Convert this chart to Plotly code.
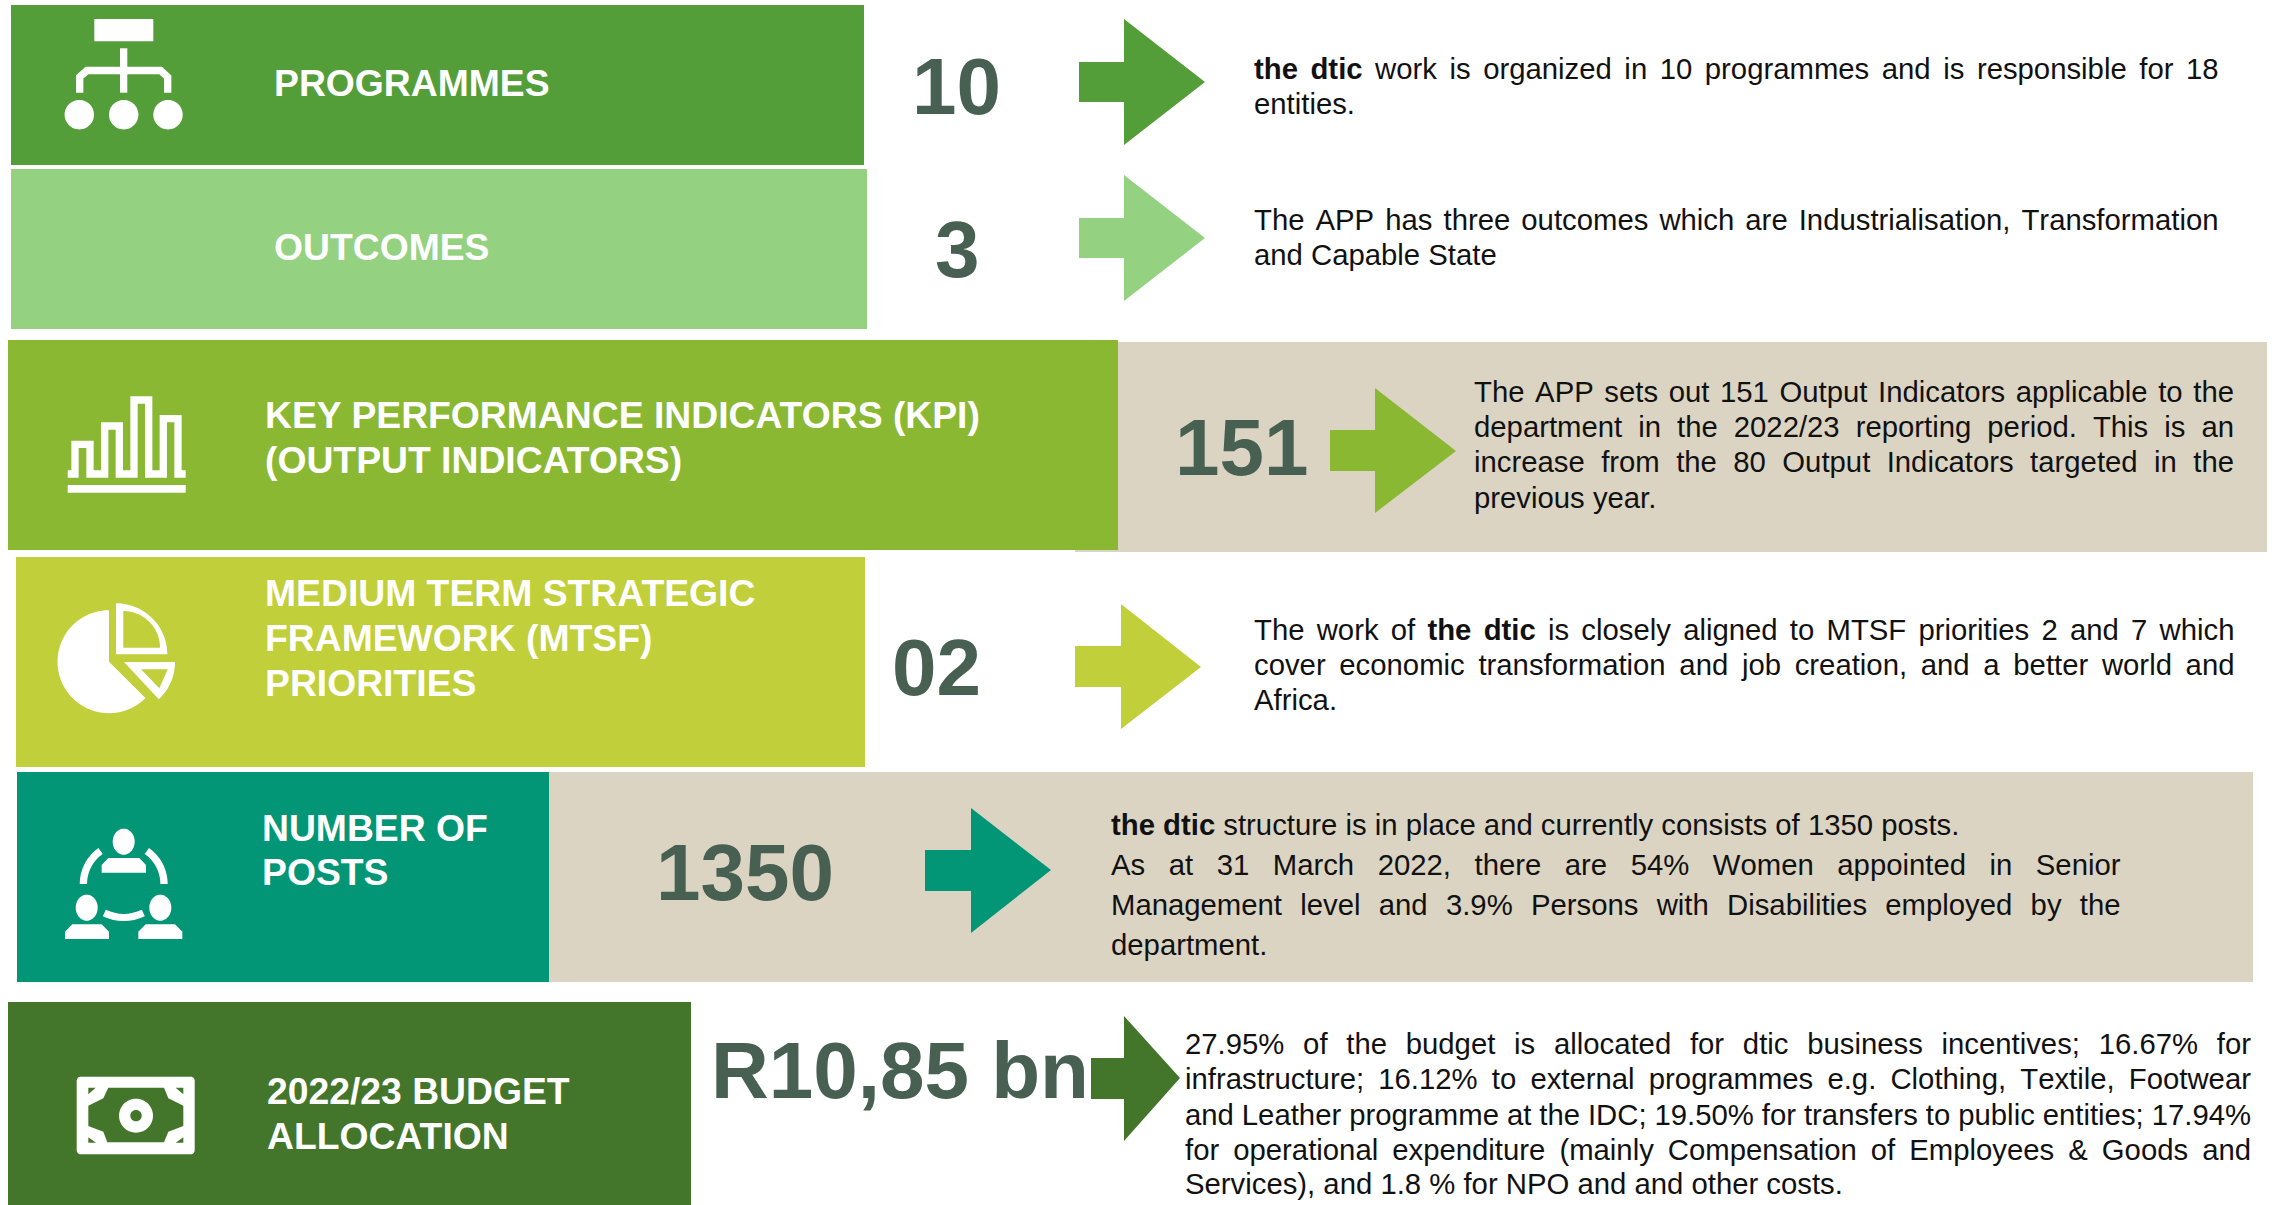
import math
import re
import plotly.graph_objects as go

# ---------- content ----------
titles = [
    ["PROGRAMMES"],
    ["OUTCOMES"],
    ["KEY PERFORMANCE INDICATORS (KPI)", "(OUTPUT INDICATORS)"],
    ["MEDIUM TERM STRATEGIC", "FRAMEWORK (MTSF)", "PRIORITIES"],
    ["NUMBER OF", "POSTS"],
    ["2022/23 BUDGET", "ALLOCATION"],
]
values = ["10", "3", "151", "02", "1350", "R10,85 bn"]
descriptions = [
    ["<b>the dtic</b> work is organized in 10 programmes and is responsible for 18", "entities."],
    ["The APP has three outcomes which are Industrialisation, Transformation", "and Capable State"],
    ["The APP sets out 151 Output Indicators applicable to the",
     "department in the 2022/23 reporting period. This is an",
     "increase from the 80 Output Indicators targeted in the",
     "previous year."],
    ["The work of <b>the dtic</b> is closely aligned to MTSF priorities 2 and 7 which",
     "cover economic transformation and job creation, and a better world and",
     "Africa."],
    ["<b>the dtic</b> structure is in place and currently consists of 1350 posts.",
     "As at 31 March 2022, there are 54% Women appointed in Senior",
     "Management level and 3.9% Persons with Disabilities employed by the",
     "department."],
    ["27.95% of the budget is allocated for dtic business incentives; 16.67% for",
     "infrastructure; 16.12% to external programmes e.g. Clothing, Textile, Footwear",
     "and Leather programme at the IDC; 19.50% for transfers to public entities; 17.94%",
     "for operational expenditure (mainly Compensation of Employees & Goods and",
     "Services), and 1.8 % for NPO and and other costs."],
]

# ---------- styling / layout ----------
W, H = 2288, 1205
FONT = "Liberation Sans, Arial, sans-serif"
COL = ["#549E39", "#94D180", "#8AB833", "#C0CF3A", "#029676", "#43752B"]
BEIGE = "#DBD4C2"
NUMCOL = "#476052"
TXT = "#111111"

panels = [(11, 5, 864, 165), (11, 169, 867, 329), (8, 340, 1118, 550),
          (16, 557, 865, 767), (17, 772, 549, 982), (8, 1002, 691, 1205)]
beiges = [(1075, 342, 2267, 552), (549, 772, 2253, 982)]
# tail x, neck x, tip x, top y, shaft top y, mid y, shaft bottom y, bottom y
arrows = [(1079, 1124, 1205, 19, 62, 82, 102, 145),
          (1079, 1124, 1205, 175, 218, 238, 258, 301),
          (1330, 1375, 1456, 388, 430, 451, 471, 513),
          (1075, 1121, 1201, 604, 646, 667, 687, 729),
          (925, 971, 1051, 808, 850, 870, 891, 933),
          (1091, 1124, 1180, 1016, 1058, 1078, 1099, 1141)]
title_pos = [(274, [82.5]), (274, [246.5]), (265, [414.5, 460]),
             (265, [592.5, 637.5, 682.7]), (261.5, [827.5, 871.7]), (267, [1090.7, 1135.7])]
value_pos = [(956, 86.7), (957, 249.7), (1241, 447.7), (936.5, 667.7), (745, 872.5), (900, 1070)]
# left x, right x, line centre ys, justified flags
desc_pos = [(1253.5, 2218, [68, 103.5], [1, 0]),
            (1253.5, 2218, [219, 254], [1, 0]),
            (1474, 2234, [391, 426, 461, 497], [1, 1, 1, 0]),
            (1253.5, 2234, [629, 664, 699], [1, 1, 0]),
            (1110.5, 2120, [824, 864, 904, 944], [0, 1, 1, 0]),
            (1185, 2251, [1043.5, 1078.5, 1114, 1149, 1183.5], [1, 1, 1, 1, 0])]
BODY = 29.3

# Arial / Liberation Sans advance widths (per 1000 em), used to justify lines
REG = dict(zip("abcdefghijklmnopqrstuvwxyz",
               [556,556,500,556,556,278,556,556,222,222,500,222,833,556,556,556,556,333,500,278,556,500,722,500,500,500]))
REG.update(zip("ABCDEFGHIJKLMNOPQRSTUVWXYZ",
               [667,667,722,722,667,611,778,722,278,500,667,556,833,722,778,667,778,722,667,611,722,667,944,667,667,611]))
REG.update({c: 556 for c in "0123456789"})
REG.update({" ": 278, ".": 278, ",": 278, ":": 278, ";": 278, "/": 278, "-": 333, "(": 333, ")": 333, "&": 667, "%": 889})
BOLD = dict(zip("abcdefghijklmnopqrstuvwxyz",
                [556,611,556,611,556,333,611,611,278,278,556,278,889,611,611,611,611,389,556,333,611,556,778,556,556,500]))
BOLD[" "] = 278


def natural_width(line, size):
    total = 0
    for i, part in enumerate(re.split(r"</?b>", line)):
        table = BOLD if i % 2 else REG
        total += sum(table.get(c, REG.get(c, 556)) for c in part)
    return total * size / 1000


def justified(line, width, size):
    gaps = re.sub(r"</?b>", "", line).count(" ")
    extra = (width - natural_width(line, size)) / max(gaps, 1)
    return f'<span style="word-spacing:{extra:.2f}px;font-kerning:none">{line}</span>'


shapes = []


def rect(x0, y0, x1, y1, color):
    shapes.append(dict(type="rect", x0=x0, y0=y0, x1=x1, y1=y1, fillcolor=color, line_width=0))


def path(d, fill="white", stroke=None, width=0):
    s = dict(type="path", path=d, line=dict(width=width, color=stroke or "rgba(0,0,0,0)"))
    s["fillcolor"] = fill if fill else "rgba(0,0,0,0)"
    shapes.append(s)


def poly(pts, close=True):
    return "M" + " L".join(f"{x:.2f},{y:.2f}" for x, y in pts) + (" Z" if close else "")


def arc(cx, cy, rx, ry, a0, a1, n=40):
    return [(cx + rx * math.cos(math.radians(a0 + (a1 - a0) * i / n)),
             cy + ry * math.sin(math.radians(a0 + (a1 - a0) * i / n))) for i in range(n + 1)]


def ellipse(cx, cy, rx, ry):
    return poly(arc(cx, cy, rx, ry, 0, 360, 60))


for b in beiges:
    rect(*b, BEIGE)
for p, c in zip(panels, COL):
    rect(*p, c)
for a, c in zip(arrows, COL):
    tail, neck, tip, top, st, mid, sb, bot = a
    path(poly([(tail, st), (neck, st), (neck, top), (tip, mid), (neck, bot), (neck, sb), (tail, sb)]), c)

# --- icon 1: organisation tree
rect(94.3, 19, 153.3, 41.3, "white")
rect(120, 48.3, 127.3, 92.7, "white")
path(poly([(79.7, 92.7), (79.7, 77), (87, 70.5), (160.5, 70.5), (167.7, 77), (167.7, 92.7)], False),
     None, "white", 7.3)
for cx in (79.3, 123.7, 168):
    path(ellipse(cx, 114.7, 14.7, 14.7))

# --- icon 3: step bars
path(poly([(67.7, 474), (75, 474), (75, 444.3), (90, 444.3), (90, 474), (104.7, 474), (104.7, 426),
           (119.3, 426), (119.3, 474), (134, 474), (134, 400), (148.7, 400), (148.7, 474),
           (163.3, 474), (163.3, 418.7), (178, 418.7), (178, 474), (185.7, 474)], False),
     None, "white", 7.3)
rect(67.7, 485, 185.7, 492.7, "white")

# --- icon 4: pie
path(poly([(109, 661.7)] + arc(109, 661.7, 51.5, 51.5, -90, -315, 60)))
q_outer = [(116, 654.3), (116, 603.3)] + arc(116, 654.3, 51.3, 51, -90, 0, 30)
q_inner = [(123.3, 647.7), (123.3, 611)] + arc(123.3, 647.7, 36.7, 36.7, -90, 0, 30)
path(poly(q_outer) + " " + poly(q_inner))
w_outer = [(124, 662)] + arc(124, 662, 51, 51, 0, 47, 20)
w_inner = [(141, 669.3), (167.7, 669.3), (159.3, 688.3)]
path(poly(w_outer) + " " + poly(w_inner))


# --- icon 5: people (offset crop coordinates /3)
def pplx(x, y):
    return (50 + x / 3, 810 + y / 3)


def body(x0):
    return poly([pplx(x0 + a, b) for a, b in
                 [(0, 387), (0, 365), (22, 343), (110, 343), (132, 365), (132, 387)]])


path(ellipse(123.7, 841.7, 11, 13))
path(poly([pplx(155, 188), pplx(155, 165), pplx(175, 144), pplx(268, 144), pplx(288, 165), pplx(288, 188)]))
path(ellipse(86.7, 907.7, 11, 13))
path(ellipse(160.3, 907.7, 11, 13))
path(body(45))
path(body(265))
path(poly(arc(123.7, 884, 40.3, 40.3, 180, 235, 20), False), None, "white", 7.3)
path(poly(arc(123.7, 884, 40.3, 40.3, -55, 0, 20), False), None, "white", 7.3)
x0, y0 = pplx(163, 309)
x1, y1 = pplx(221, 336)
x2, y2 = pplx(280, 309)
path(f"M{x0:.2f},{y0:.2f} Q{x1:.2f},{y1:.2f} {x2:.2f},{y2:.2f}", None, "white", 7)


# --- icon 6: banknote
def nt(x, y):
    return (50 + x / 3, 1060 + y / 3)


r = 4
outer = arc(190.7, 1080.7, r, r, -90, 0, 6) + arc(190.7, 1150.3, r, r, 0, 90, 6) \
    + arc(80.7, 1150.3, r, r, 90, 180, 6) + arc(80.7, 1080.7, r, r, 180, 270, 6)
holes = [
    [(175, 83), (342, 83), (355, 115), (400, 137), (400, 198), (355, 215), (342, 247), (172, 247),
     (160, 215), (115, 198), (115, 137), (160, 115)],
    [(115, 83), (137, 83), (115, 103)],
    [(400, 83), (377, 83), (400, 103)],
    [(115, 248), (138, 248), (115, 232)],
    [(400, 248), (377, 248), (400, 232)],
]
path(poly(outer) + " " + " ".join(poly([nt(*q) for q in h]) for h in holes))
cx, cy = nt(258, 167)
path(ellipse(cx, cy, 17, 17) + " " + ellipse(cx, cy, 5.7, 5.7))

# ---------- text ----------
ann = []


def text(x, y, s, size, color, xanchor="left"):
    ann.append(dict(x=x, y=y, xref="x", yref="y", text=s, showarrow=False, xanchor=xanchor, yanchor="middle",
                    align="left", borderpad=0, borderwidth=0,
                    font=dict(family=FONT, size=size, color=color)))


for lines, (x, ys) in zip(titles, title_pos):
    for line, y in zip(lines, ys):
        text(x, y, f"<b>{line}</b>", 37.3, "white")
for v, (x, y) in zip(values, value_pos):
    text(x, y, f"<b>{v}</b>", 80, NUMCOL, "center")
for lines, (xl, xr, ys, flags) in zip(descriptions, desc_pos):
    for line, y, flag in zip(lines, ys, flags):
        safe = line.replace("&", "&amp;")
        s = justified(line, xr - xl, BODY).replace("&", "&amp;") if flag else safe
        text(xl, y, s, BODY, TXT)

fig = go.Figure()
fig.update_layout(
    width=W, height=H, margin=dict(l=0, r=0, t=0, b=0), paper_bgcolor="white", plot_bgcolor="white",
    xaxis=dict(range=[0, W], visible=False, fixedrange=True),
    yaxis=dict(range=[H, 0], visible=False, fixedrange=True),
    shapes=shapes, annotations=ann, showlegend=False,
)
fig.write_html("out.html", config={"displayModeBar": False},
               post_script="document.body.style.margin='0';document.documentElement.style.overflow='hidden';")
